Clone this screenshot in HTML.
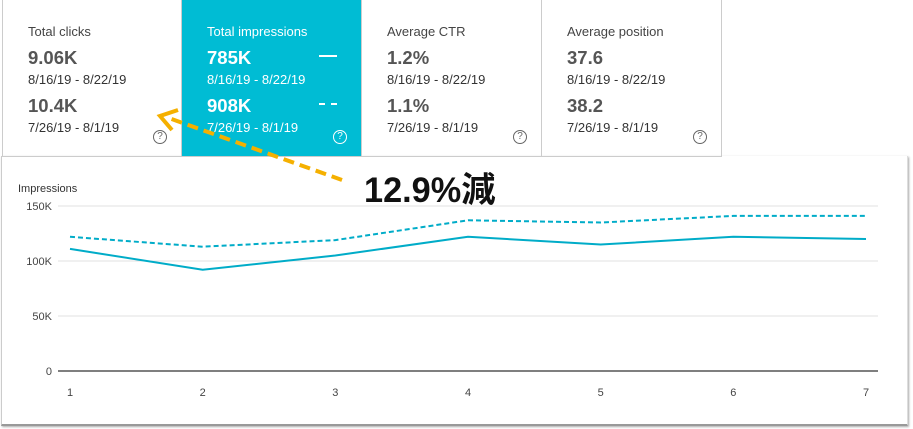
<!DOCTYPE html>
<html><head><meta charset="utf-8"><style>
body{margin:0;width:913px;height:429px;background:#fff;font-family:"Liberation Sans","Noto Sans CJK JP",sans-serif;position:relative;overflow:hidden}
.card{position:absolute;top:0;height:157px;width:180px;box-sizing:border-box;border-right:1px solid #ccc;border-bottom:1px solid #ccc;color:#444}
.card .t{position:absolute;left:25px;top:24px;font-size:13px}
.card .v{position:absolute;left:25px;font-size:18.5px;font-weight:bold;color:#555}
.card .d{position:absolute;left:25px;font-size:13px;color:#333}
.card .q{position:absolute;right:14px;top:130px;width:12px;height:12px;border:1px solid #666;border-radius:50%;font-size:10px;text-align:center;line-height:12px;color:#666}
.sel{background:#00bcd4;color:#fff}
.sel .v,.sel .d{color:#fff}
.sel .q{border-color:#fff;color:#fff}
</style></head><body>
<div style="position:absolute;left:1px;top:156px;width:905px;height:268px;border-left:1px solid #ccc;border-right:1px solid #ddd;border-bottom:2px solid #999;box-shadow:1px 1px 2px #aaa"></div>
<div class="card" style="left:2px;border-left:1px solid #ccc"><div class="t">Total clicks</div><div class="v" style="top:47px">9.06K</div><div class="d" style="top:72px">8/16/19 - 8/22/19</div><div class="v" style="top:95px">10.4K</div><div class="d" style="top:120px">7/26/19 - 8/1/19</div><div class="q">?</div></div>
<div class="card sel" style="left:182px"><div class="t">Total impressions</div><div class="v" style="top:47px">785K</div><div class="d" style="top:72px">8/16/19 - 8/22/19</div><div class="v" style="top:95px">908K</div><div class="d" style="top:120px">7/26/19 - 8/1/19</div><div style="position:absolute;left:137px;top:55px;width:18px;height:2px;background:#fff"></div><div style="position:absolute;left:137px;top:103px;width:18px;border-top:2px dashed #fff"></div><div class="q">?</div></div>
<div class="card" style="left:362px"><div class="t">Average CTR</div><div class="v" style="top:47px">1.2%</div><div class="d" style="top:72px">8/16/19 - 8/22/19</div><div class="v" style="top:95px">1.1%</div><div class="d" style="top:120px">7/26/19 - 8/1/19</div><div class="q">?</div></div>
<div class="card" style="left:542px"><div class="t">Average position</div><div class="v" style="top:47px">37.6</div><div class="d" style="top:72px">8/16/19 - 8/22/19</div><div class="v" style="top:95px">38.2</div><div class="d" style="top:120px">7/26/19 - 8/1/19</div><div class="q">?</div></div>
<svg id="chart" width="913" height="429" style="position:absolute;left:0;top:0" font-family="Liberation Sans, sans-serif"></svg>
<div style="position:absolute;left:364px;top:162px;font-size:35px;font-weight:bold;color:#111;font-family:'Liberation Sans','Noto Sans CJK JP',sans-serif;transform:scaleX(0.98);transform-origin:left;white-space:nowrap">12.9%減</div>
<script>
const categories=["1","2","3","4","5","6","7"];
const currentValues=[111,92,105,122,115,122,120];
const previousValues=[122,113,119,137,135,141,141];
const yTicks=[0,50,100,150];
const yTickLabels=["0","50K","100K","150K"];
const NS="http://www.w3.org/2000/svg";
const svg=document.getElementById('chart');
const x=i=>70+i*(866-70)/(categories.length-1);
const y=v=>371-v*(165/150);
function mk(t,a){const e=document.createElementNS(NS,t);for(const k in a)e.setAttribute(k,a[k]);svg.appendChild(e);return e;}
const tt=mk('text',{x:18,y:192,'font-size':11,fill:'#333'});tt.textContent='Impressions';


yTicks.forEach((v,i)=>{
  const l=mk('line',{x1:58,x2:878,y1:y(v),y2:y(v),stroke:v===0?'#555':'#e0e0e0','stroke-width':v===0?1.5:1});
  
  
  const t=mk('text',{x:52,y:y(v)+4,'font-size':11,fill:'#444','text-anchor':'end'});t.textContent=yTickLabels[i];
  
  
});
categories.forEach((c,i)=>{
  const t=mk('text',{x:x(i),y:396,'font-size':11,fill:'#444','text-anchor':'middle'});t.textContent=c;
  
  
});
const p1=mk('polyline',{points:previousValues.map((v,i)=>x(i)+','+y(v)).join(' '),fill:'none',stroke:'#00acc8','stroke-width':2,'stroke-dasharray':'5,3'});


const p2=mk('polyline',{points:currentValues.map((v,i)=>x(i)+','+y(v)).join(' '),fill:'none',stroke:'#00acc8','stroke-width':2});


const a=mk('line',{x1:342,y1:180,x2:166,y2:117,stroke:'#f5b000','stroke-width':4,'stroke-dasharray':'11,6'});


const h=mk('polyline',{points:'178,110 160,116 172,130',fill:'none',stroke:'#f5b000','stroke-width':4});


</script>
</body></html>
